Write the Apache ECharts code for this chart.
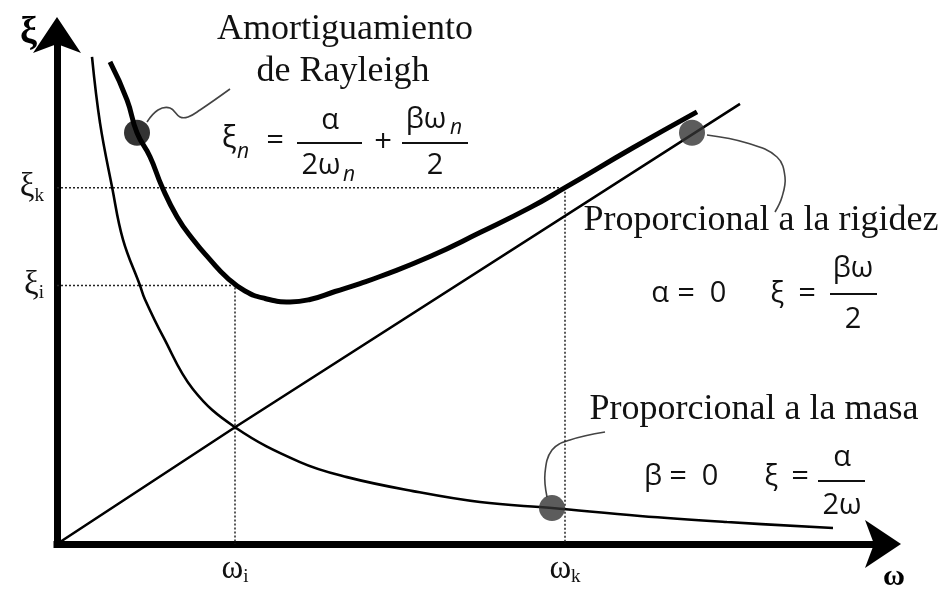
<!DOCTYPE html>
<html lang="es">
<head>
    <meta charset="UTF-8">
    <title>Amortiguamiento de Rayleigh</title>
    <style>
        * {
            margin: 0;
            padding: 0;
        }

        #chart {
            width: 943px;
            height: 592px;
            background: #fff;
        }
    </style>
</head>
<body>
    <div id="chart"></div>

    <script src="https://cdn.jsdelivr.net/npm/echarts@6/dist/echarts.min.js"></script>
    <script>
        // valores (unidades arbitrarias: ω horizontal, ξ vertical)
        var rayleighW = [0.53, 0.70, 0.80, 0.93, 1.05, 1.20, 1.36, 1.53, 1.70, 1.88, 2.08, 2.33, 2.53, 2.78, 3.03, 3.23, 3.73, 4.23, 4.73, 5.08, 5.76, 6.40];
        var rayleighXi = [4.83, 4.45, 4.12, 3.88, 3.58, 3.28, 3.05, 2.85, 2.67, 2.535, 2.46, 2.425, 2.45, 2.53, 2.61, 2.68, 2.88, 3.12, 3.37, 3.57, 3.97, 4.33];

        var masaW = [0.35, 0.43, 0.55, 0.66, 0.83, 0.88, 1.06, 1.36, 1.78, 2.43, 2.90, 3.56, 4.23, 4.95, 5.83, 6.70, 7.76];
        var masaXi = [4.88, 4.22, 3.58, 3.05, 2.59, 2.45, 2.08, 1.55, 1.17, 0.82, 0.67, 0.53, 0.42, 0.36, 0.28, 0.22, 0.16];

        var rigidezW = [0, 1.78, 6.83];
        var rigidezXi = [0, 1.17, 4.41];

        var xTickValues = [1.78, 5.08];
        var xTickSubs = ['i', 'k'];
        var yTickValues = [2.59, 3.57];
        var yTickSubs = ['i', 'k'];

        var puntoW = [0.80, 6.35, 4.95];
        var puntoXi = [4.12, 4.12, 0.36];
        var puntoColor = ['#000', '#333', '#333'];

        var serif = 'Liberation Serif';
        var sans = 'Open Sans';

        function zip(a, b) {
            return a.map(function (v, i) {
                return [v, b[i]];
            });
        }

        function nearest(list, v) {
            var best = 0;
            list.forEach(function (t, i) {
                if (Math.abs(t - v) < Math.abs(list[best] - v)) best = i;
            });
            return best;
        }

        var labelRich = {
            m: { fontFamily: serif, fontSize: 33, color: '#111' },
            s: { fontFamily: serif, fontSize: 19, color: '#111', padding: [16, 0, 0, 0] }
        };

        var chart = echarts.init(document.getElementById('chart'));

        function txt(x, y, text, font, opts) {
            var style = {
                text: text,
                fontFamily: font,
                fontSize: 29,
                fill: '#111',
                align: 'center',
                verticalAlign: 'middle'
            };
            for (var k in opts) style[k] = opts[k];
            return { type: 'text', x: x, y: y, z: 5, style: style };
        }

        function bar(x1, x2, y) {
            return {
                type: 'line', z: 5,
                shape: { x1: x1, y1: y, x2: x2, y2: y },
                style: { stroke: '#111', lineWidth: 2 }
            };
        }

        function leader(points) {
            return {
                type: 'polyline', z: 1,
                shape: { points: points, smooth: 0.4 },
                style: { stroke: '#444', lineWidth: 1.6, fill: null }
            };
        }

        var option = {
            animation: false,
            grid: { left: 57, right: 58, top: 33, bottom: 47 },
            xAxis: {
                type: 'value', min: 0, max: 8.28,
                name: 'ω',
                nameLocation: 'end',
                nameGap: 9,
                nameTextStyle: {
                    fontFamily: serif, fontSize: 30, fontWeight: 'bold', color: '#000',
                    align: 'center', verticalAlign: 'top', padding: [18, 0, 0, 0]
                },
                axisLine: {
                    symbol: ['none', 'arrow'], symbolSize: [36, 36], symbolOffset: [0, 16],
                    lineStyle: { color: '#000', width: 7, cap: 'square' }
                },
                axisTick: { show: false },
                splitLine: { show: false },
                axisLabel: {
                    customValues: xTickValues,
                    margin: 8,
                    formatter: function (v) {
                        return '{m|ω}{s|' + xTickSubs[nearest(xTickValues, v)] + '}';
                    },
                    rich: labelRich
                }
            },
            yAxis: {
                type: 'value', min: 0, max: 5.12,
                name: 'ξ',
                nameLocation: 'end',
                nameGap: 0,
                nameTextStyle: {
                    fontFamily: serif, fontSize: 38, fontWeight: 'bold', color: '#000',
                    align: 'right', verticalAlign: 'middle', padding: [0, 20, 8, 0]
                },
                axisLine: {
                    symbol: ['none', 'arrow'], symbolSize: [36, 36], symbolOffset: [0, 16],
                    lineStyle: { color: '#000', width: 7, cap: 'square' }
                },
                axisTick: { show: false },
                splitLine: { show: false },
                axisLabel: {
                    customValues: yTickValues,
                    margin: 13,
                    formatter: function (v) {
                        return '{m|ξ}{s|' + yTickSubs[nearest(yTickValues, v)] + '}';
                    },
                    rich: labelRich
                }
            },
            series: [
                {
                    type: 'line', silent: true, showSymbol: false,
                    data: [[0, yTickValues[1]], [xTickValues[1], yTickValues[1]], [xTickValues[1], 0]],
                    lineStyle: { color: '#222', width: 1.5, type: [2, 2] }
                },
                {
                    type: 'line', silent: true, showSymbol: false,
                    data: [[0, yTickValues[0]], [xTickValues[0], yTickValues[0]], [xTickValues[0], 0]],
                    lineStyle: { color: '#222', width: 1.5, type: [2, 2] }
                },
                {
                    name: 'Proporcional a la rigidez',
                    type: 'line', silent: true, showSymbol: false,
                    data: zip(rigidezW, rigidezXi),
                    lineStyle: { color: '#000', width: 2.6 }
                },
                {
                    name: 'Proporcional a la masa',
                    type: 'line', silent: true, showSymbol: false, smooth: 0.4,
                    data: zip(masaW, masaXi),
                    lineStyle: { color: '#000', width: 2.6 }
                },
                {
                    name: 'Amortiguamiento de Rayleigh',
                    type: 'line', silent: true, showSymbol: false, smooth: 0.5,
                    data: zip(rayleighW, rayleighXi),
                    lineStyle: { color: '#000', width: 5 }
                },
                {
                    type: 'scatter', silent: true, z: 4,
                    symbolSize: 26,
                    data: puntoW.map(function (w, i) {
                        return { value: [w, puntoXi[i]], itemStyle: { color: puntoColor[i] } };
                    })
                }
            ],
            graphic: [
                leader([[147, 122], [158, 110], [170, 108], [180, 117], [188, 117], [200, 110], [230, 89]]),
                leader([[707, 135], [747, 143], [777, 157], [785, 177], [782, 197], [775, 212]]),
                leader([[547, 497], [545, 473], [552, 450], [570, 440], [605, 432]]),

                txt(345, 30, 'Amortiguamiento', serif, { fontSize: 36 }),
                txt(343, 72, 'de Rayleigh', serif, { fontSize: 36 }),

                // ξn = α/2ωn + βωn/2
                txt(229, 139, 'ξ', sans, { fontSize: 31 }),
                txt(243, 152, 'n', sans, { fontSize: 21, fontStyle: 'italic' }),
                txt(275, 141, '=', sans, { fontSize: 31 }),
                txt(330, 121, 'α', sans),
                bar(297, 362, 143),
                txt(321, 166, '2ω', sans),
                txt(349, 175, 'n', sans, { fontSize: 21, fontStyle: 'italic' }),
                txt(383, 143, '+', sans, { fontSize: 31 }),
                txt(426, 120, 'βω', sans),
                txt(456, 128, 'n', sans, { fontSize: 21, fontStyle: 'italic' }),
                bar(402, 468, 143),
                txt(435, 166, '2', sans),

                txt(761, 221, 'Proporcional a la rigidez', serif, { fontSize: 36 }),
                txt(660, 294, 'α', sans),
                txt(686, 294, '=', sans, { fontSize: 31 }),
                txt(718, 294, '0', sans),
                txt(777, 294, 'ξ', sans),
                txt(807, 294, '=', sans, { fontSize: 31 }),
                txt(853, 269, 'βω', sans),
                bar(830, 877, 294),
                txt(853, 320, '2', sans),

                txt(754, 410, 'Proporcional a la masa', serif, { fontSize: 36 }),
                txt(653, 477, 'β', sans),
                txt(678, 477, '=', sans, { fontSize: 31 }),
                txt(710, 477, '0', sans),
                txt(771, 477, 'ξ', sans),
                txt(800, 477, '=', sans, { fontSize: 31 }),
                txt(842, 458, 'α', sans),
                bar(818, 865, 481),
                txt(842, 506, '2ω', sans)
            ]
        };

        chart.setOption(option);
    </script>
</body>
</html>
